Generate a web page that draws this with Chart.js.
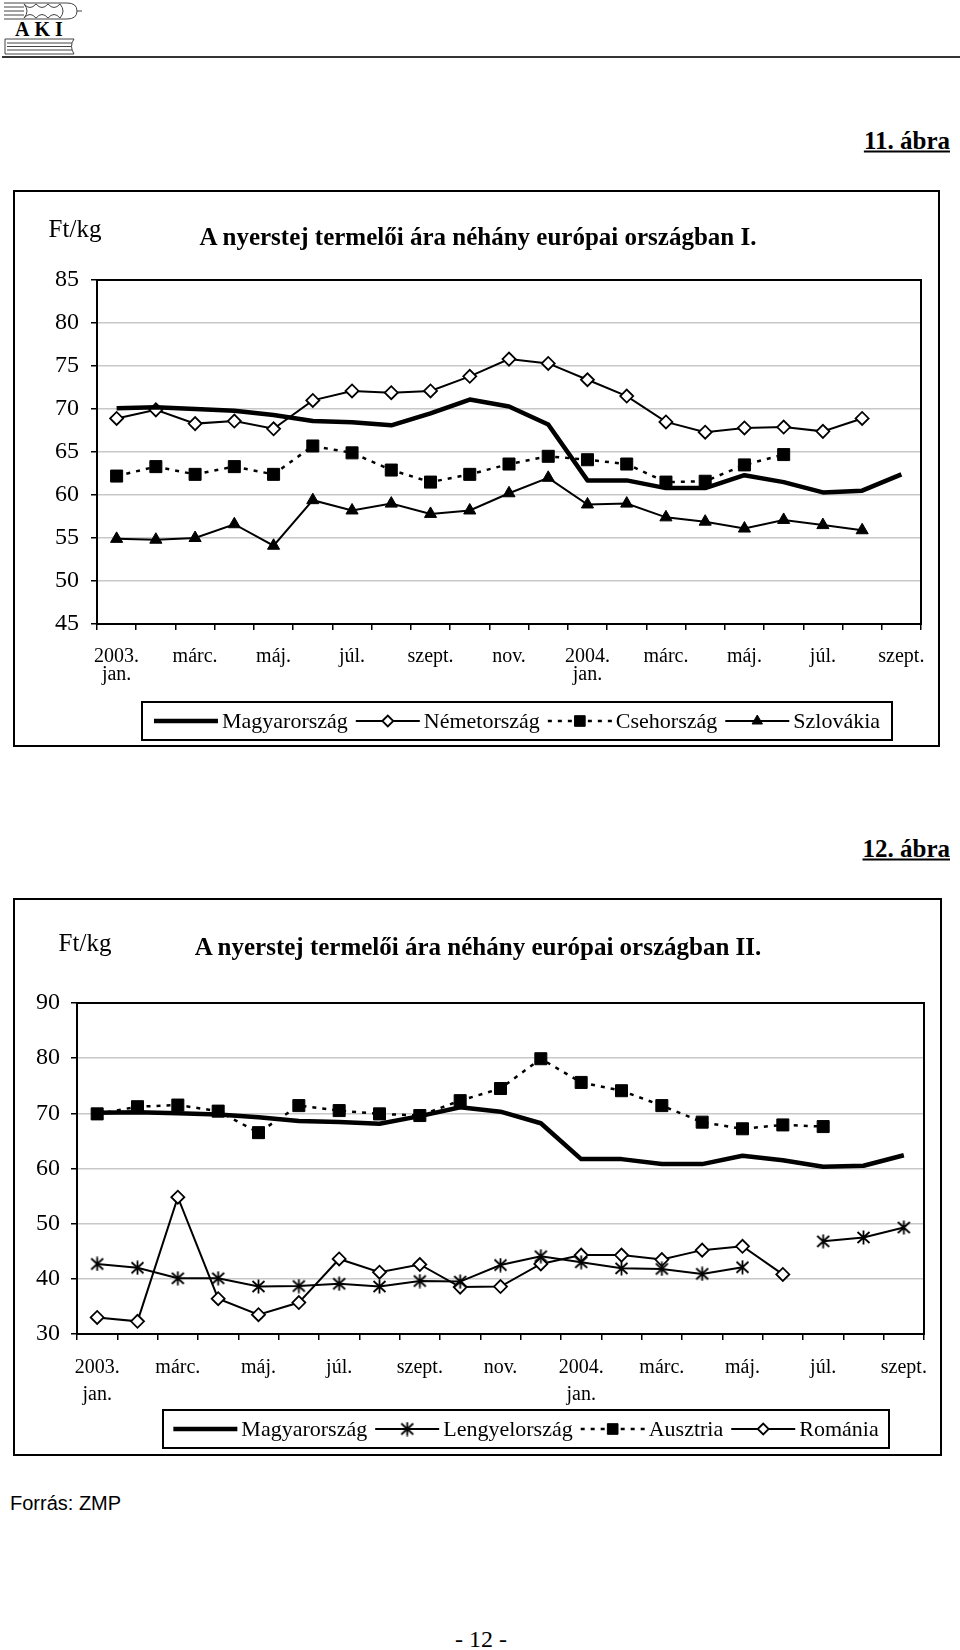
<!DOCTYPE html>
<html lang="hu">
<head>
<meta charset="utf-8">
<title>A nyerstej termelői ára néhány európai országban</title>
<script src="https://cdn.jsdelivr.net/npm/chart.js@4.4.0/dist/chart.umd.min.js"></script>
<style>
  body { margin: 0; background: #fff; font-family: "Liberation Serif", "DejaVu Serif", serif; color: #000; }
  #lap { position: relative; width: 960px; height: 1650px; overflow: hidden; }
  .abs { position: absolute; white-space: nowrap; line-height: 1; }
  .abra { right: 10px; font-size: 25px; font-weight: bold; text-decoration: underline; transform: translateY(-50%); }
  .doboz { position: absolute; border: 2px solid #000; box-sizing: border-box; }
  .doboz canvas { position: absolute; left: 0; top: 0; }
  .cim { font-size: 25px; font-weight: bold; transform: translate(-50%, -50%); }
  .egyseg { font-size: 25px; transform: translate(-50%, -50%); }
</style>
</head>
<body>
<div id="lap">
  <!-- AKI logó -->
  <svg class="abs" style="left:0;top:0" width="90" height="60" viewBox="0 0 90 60">
    <g fill="none" stroke="#444" stroke-width="1">
      <path d="M4 3 H67 Q77 3 77 11 Q77 19 67 19 H4"/>
      <line x1="4" y1="7" x2="24" y2="7"/>
      <line x1="4" y1="11" x2="24" y2="11"/>
      <line x1="4" y1="15" x2="24" y2="15"/>
      <path d="M24 4 Q30 11 24 18 M24 4 Q30 11 36 4 Q42 11 48 4 Q54 11 60 4 Q66 11 60 18 Q54 11 48 18 Q42 11 36 18 Q30 11 24 18"/>
      <line x1="77" y1="11" x2="82" y2="11"/>
      <path d="M5 39 H74 Q69 46 74 54 H5 Z"/>
      <line x1="7" y1="43" x2="72" y2="43"/>
      <line x1="7" y1="46.5" x2="71" y2="46.5"/>
      <line x1="7" y1="50" x2="72" y2="50"/>
    </g>
    <text x="15" y="36" font-family="Liberation Serif" font-weight="bold" font-size="20" letter-spacing="5">AKI</text>
  </svg>
  <div class="abs" style="left:2px;top:56px;width:958px;height:2px;background:#333"></div>

  <div class="abs abra" style="top:140px">11. ábra</div>
  <div class="doboz" style="left:13px;top:190px;width:927px;height:557px">
    <canvas id="grafikon1" width="923" height="553"></canvas>
    <div class="abs egyseg" style="left:60px;top:36px">Ft/kg</div>
    <div class="abs cim" style="left:463px;top:44px">A nyerstej termelői ára néhány európai országban I.</div>
  </div>

  <div class="abs abra" style="top:848px">12. ábra</div>
  <div class="doboz" style="left:13px;top:898px;width:929px;height:558px">
    <canvas id="grafikon2" width="925" height="554"></canvas>
    <div class="abs egyseg" style="left:70px;top:42px">Ft/kg</div>
    <div class="abs cim" style="left:463px;top:46px">A nyerstej termelői ára néhány európai országban II.</div>
  </div>

  <div class="abs" style="left:10px;top:1503px;transform:translateY(-50%);font-family:'Liberation Sans',Arial,sans-serif;font-size:20px">Forrás: ZMP</div>
  <div class="abs" style="left:481px;top:1639px;transform:translate(-50%,-50%);font-size:24px">- 12 -</div>
</div>

<script>
// 2003. jan. - 2004. szept., minden második hónap felirattal
const honapFeliratok = [['2003.', 'jan.'], '', 'márc.', '', 'máj.', '', 'júl.', '', 'szept.', '', 'nov.', '',
                        ['2004.', 'jan.'], '', 'márc.', '', 'máj.', '', 'júl.', '', 'szept.'];

// Ft/kg
const magyarorszag = [70.1, 70.2, 70.0, 69.8, 69.3, 68.6, 68.45, 68.1, 69.5, 71.1, 70.3, 68.2,
                      61.7, 61.7, 60.8, 60.8, 62.3, 61.5, 60.3, 60.5, 62.4];
const nemetorszag = [68.9, 69.9, 68.3, 68.6, 67.7, 71.0, 72.1, 71.9, 72.1, 73.8, 75.8, 75.3,
                     73.4, 71.5, 68.5, 67.3, 67.8, 67.9, 67.4, 68.9, null];
const csehorszag = [62.2, 63.3, 62.4, 63.3, 62.4, 65.7, 64.9, 62.9, 61.5, 62.4, 63.6, 64.5,
                    64.1, 63.6, 61.5, 61.6, 63.5, 64.7, null, null, null];
const szlovakia = [54.9, 54.8, 55.0, 56.6, 54.1, 59.4, 58.2, 59.0, 57.8, 58.2, 60.2, 62.0,
                   58.9, 59.0, 57.4, 56.9, 56.1, 57.1, 56.5, 55.9, null];

const lengyelorszag = [42.7, 42.0, 40.1, 40.1, 38.6, 38.7, 39.1, 38.6, 39.6, 39.5, 42.5, 44.1,
                       43.0, 41.9, 41.8, 40.9, 42.1, null, 46.8, 47.5, 49.3];
const ausztria = [69.9, 71.2, 71.5, 70.4, 66.5, 71.4, 70.5, 69.9, 69.6, 72.3, 74.5, 79.9,
                  75.6, 74.1, 71.4, 68.4, 67.2, 67.9, 67.6, null, null];
const romania = [33.0, 32.3, 54.8, 36.4, 33.5, 35.7, 43.6, 41.2, 42.6, 38.5, 38.6, 42.7,
                 44.3, 44.3, 43.5, 45.2, 45.9, 40.8, null, null, null];

const yTengely1 = { min: 45, max: 85, lepes: 5 };
const yTengely2 = { min: 30, max: 90, lepes: 10 };

Chart.defaults.font.family = '"Liberation Serif", "DejaVu Serif", serif';
Chart.defaults.color = '#000';

// Excel-szerű csillag jelölő
function csillag() {
    const c = document.createElement('canvas');
    c.width = 15; c.height = 15;
    const g = c.getContext('2d');
    g.strokeStyle = '#000';
    g.lineWidth = 1.8;
    g.beginPath();
    g.moveTo(7.5, 0.5); g.lineTo(7.5, 14.5);
    g.moveTo(1.5, 2); g.lineTo(13.5, 13);
    g.moveTo(13.5, 2); g.lineTo(1.5, 13);
    g.stroke();
    return c;
}

function vastag(label, data) {
    return { label, data, borderColor: '#000', borderWidth: 4.5, pointRadius: 0, borderJoinStyle: 'round' };
}
function vonal(label, data, stilus, sugar, ures, szaggatott) {
    return {
        label, data,
        borderColor: '#000',
        borderWidth: szaggatott ? 2.5 : 2,
        borderDash: szaggatott ? [4, 6] : [],
        pointStyle: stilus,
        pointRadius: sugar,
        pointBackgroundColor: ures ? '#fff' : '#000',
        pointBorderColor: '#000',
        pointBorderWidth: ures ? 1.8 : 1
    };
}

// keret a rajzterület körül
const keret = {
    id: 'keret',
    beforeDatasetsDraw(chart) {
        const { left, top, right, bottom } = chart.chartArea;
        const ctx = chart.ctx;
        ctx.save();
        ctx.strokeStyle = '#000';
        ctx.lineWidth = 2;
        ctx.strokeRect(left, top, right - left, bottom - top);
        ctx.restore();
    }
};

// jelmagyarázat kerettel
const jelmagyarazat = {
    id: 'jelmagyarazat',
    afterDraw(chart, args, opts) {
        const ctx = chart.ctx;
        ctx.save();
        ctx.strokeStyle = '#000';
        ctx.lineWidth = 2;
        ctx.strokeRect(opts.x, opts.y, opts.w, opts.h);
        ctx.font = '22px "Liberation Serif"';
        ctx.textBaseline = 'middle';
        ctx.fillStyle = '#000';
        const minta = 64, resz = 4, koz = 8;
        const dsek = chart.data.datasets;
        let ossz = koz * (dsek.length - 1);
        dsek.forEach(d => { ossz += minta + resz + ctx.measureText(d.label).width; });
        let x = opts.x + (opts.w - ossz) / 2;
        const cy = opts.y + opts.h / 2;
        dsek.forEach(d => {
            ctx.save();
            ctx.strokeStyle = d.borderColor;
            ctx.lineWidth = d.borderWidth;
            ctx.setLineDash(d.borderDash || []);
            ctx.beginPath();
            ctx.moveTo(x, cy);
            ctx.lineTo(x + minta, cy);
            ctx.stroke();
            ctx.setLineDash([]);
            if (d.pointRadius > 0) {
                const px = x + minta / 2;
                if (typeof d.pointStyle === 'object') {
                    ctx.drawImage(d.pointStyle, px - d.pointStyle.width / 2, cy - d.pointStyle.height / 2);
                } else {
                    ctx.fillStyle = d.pointBackgroundColor;
                    ctx.strokeStyle = d.pointBorderColor;
                    ctx.lineWidth = d.pointBorderWidth;
                    Chart.helpers.drawPoint(ctx, { pointStyle: d.pointStyle, radius: d.pointRadius - 1, rotation: 0, borderWidth: d.pointBorderWidth }, px, cy);
                }
            }
            ctx.restore();
            ctx.fillText(d.label, x + minta + resz, cy + 1);
            x += minta + resz + ctx.measureText(d.label).width + koz;
        });
        ctx.restore();
    }
};

function beallitasok(y, m) {
    return {
        responsive: false,
        animation: false,
        events: [],
        layout: { padding: m.padding },
        plugins: {
            legend: { display: false },
            tooltip: { enabled: false },
            jelmagyarazat: m.jm
        },
        scales: {
            x: {
                offset: true,
                grid: { offset: true, drawOnChartArea: false, tickLength: 6, color: '#000', lineWidth: 1.5 },
                border: { display: false },
                ticks: { autoSkip: false, maxRotation: 0, minRotation: 0, padding: m.xPad,
                         font: { size: 20, lineHeight: m.xSor } },
                afterFit: s => { s.height = m.xMag; s.paddingLeft = 0; s.paddingRight = 0; }
            },
            y: {
                min: y.min, max: y.max,
                grid: { color: '#c8c8c8', lineWidth: 1.5, tickColor: '#000', tickLength: 6 },
                border: { display: false },
                ticks: { stepSize: y.lepes, padding: m.yPad, font: { size: 24 } },
                afterFit: s => { s.width = m.ySzel; s.paddingTop = 0; s.paddingBottom = 0; }
            }
        }
    };
}

new Chart(document.getElementById('grafikon1'), {
    type: 'line',
    data: {
        labels: honapFeliratok,
        datasets: [
            vastag('Magyarország', magyarorszag),
            vonal('Németország', nemetorszag, 'rectRot', 6.5, true, false),
            vonal('Csehország', csehorszag, 'rect', 8.5, false, true),
            vonal('Szlovákia', szlovakia, 'triangle', 7, false, false)
        ]
    },
    options: beallitasok(yTengely1, {
        padding: { left: 12, right: 17, top: 88, bottom: 41 },
        ySzel: 70, yPad: 12, xMag: 80, xPad: 18, xSor: 0.9,
        jm: { x: 127, y: 510, w: 750, h: 38 }
    }),
    plugins: [keret, jelmagyarazat]
});

new Chart(document.getElementById('grafikon2'), {
    type: 'line',
    data: {
        labels: honapFeliratok,
        datasets: [
            vastag('Magyarország', magyarorszag),
            vonal('Lengyelország', lengyelorszag, csillag(), 7, false, false),
            vonal('Ausztria', ausztria, 'rect', 8.5, false, true),
            vonal('Románia', romania, 'rectRot', 6.5, true, false)
        ]
    },
    options: beallitasok(yTengely2, {
        padding: { left: 12, right: 16, top: 103, bottom: 40 },
        ySzel: 50, yPad: 11, xMag: 80, xPad: 14, xSor: 1.35,
        jm: { x: 148, y: 510, w: 726, h: 38 }
    }),
    plugins: [keret, jelmagyarazat]
});
</script>
</body>
</html>
